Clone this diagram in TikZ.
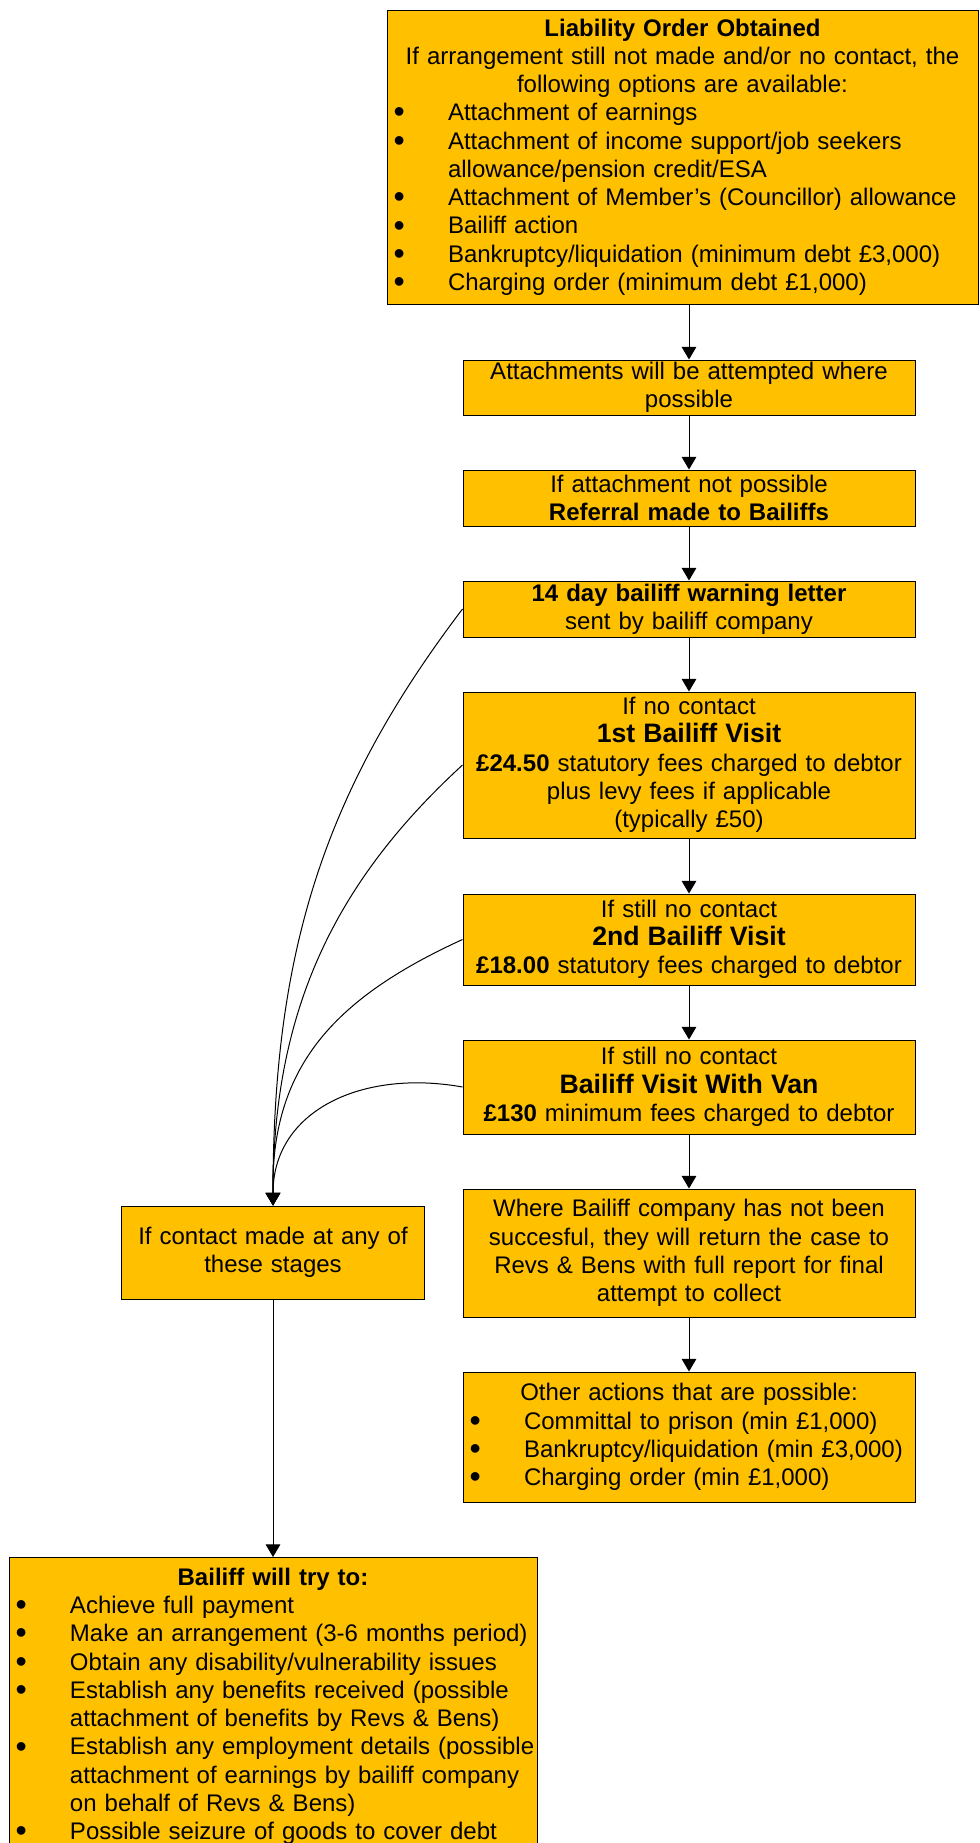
\documentclass[tikz,border=0pt]{standalone}
\usepackage{fontspec}
\setmainfont{Liberation Sans}
\usetikzlibrary{arrows.meta}

\definecolor{stagefill}{HTML}{FFC000}
\newcommand\stagefont{\fontsize{18}{21.2}\selectfont}
\newcommand\visitfont{\fontsize{20}{21.2}\selectfont\bfseries}
\newcommand\bulletmark{\raisebox{-1.6pt}{\fontsize{24}{24}\selectfont\textbullet}}
\newcommand\itm[1]{\par\noindent\hangindent=45.75pt\hangafter=1\makebox[45.75pt][l]{\hspace{5pt}\bulletmark}#1}

\tikzset{
  stage/.style={draw=black, line width=0.75pt, fill=stagefill, inner sep=0pt, align=center, font=\stagefont},
  liststage/.style={draw=black, line width=0.75pt, fill=stagefill, inner sep=0pt, font=\stagefont},
  flow/.style={line width=0.75pt, -{Triangle[length=9.5pt,width=11pt]}},
}

\begin{document}
\begin{tikzpicture}[x=0.75pt, y=-0.75pt]
\useasboundingbox (0,0) rectangle (979,1843);

% Liability order
\node[liststage, text width=443.25pt, minimum height=220.5pt] (liability) at (682.5,157) {\centering\textbf{Liability Order Obtained}\par
If arrangement still not made and/or no contact, the\break following options are available:\par
\raggedright
\itm{Attachment of earnings}
\itm{Attachment of income support/job seekers\break allowance/pension credit/ESA}
\itm{Attachment of Member’s (Councillor) allowance}
\itm{Bailiff action}
\itm{Bankruptcy/liquidation (minimum debt £3,000)}
\itm{Charging order (minimum debt £1,000)}\par};

% Attachments and referral
\node[stage, text width=339pt, minimum height=41.25pt] (attach) at (689,387.5) {Attachments will be attempted where\\possible};
\node[stage, text width=339pt, minimum height=42pt] (referral) at (689,498) {If attachment not possible\\\textbf{Referral made to Bailiffs}};

% Bailiff stages
\node[stage, text width=339pt, minimum height=42pt] (warning) at (689,609) {\textbf{14 day bailiff warning letter}\\sent by bailiff company};
\node[stage, text width=339pt, minimum height=109.5pt] (visitone) at (689,765) {If no contact\\{\visitfont 1st Bailiff Visit}\\\textbf{£24.50} statutory fees charged to debtor\\plus levy fees if applicable\\(typically £50)};
\node[stage, text width=339pt, minimum height=68.25pt] (visittwo) at (689,939.5) {If still no contact\\{\visitfont 2nd Bailiff Visit}\\\textbf{£18.00} statutory fees charged to debtor};
\node[stage, text width=339pt, minimum height=70.5pt] (vanvisit) at (689,1087) {If still no contact\\{\visitfont Bailiff Visit With Van}\\\textbf{£130} minimum fees charged to debtor};

% Case returned
\node[stage, text width=339pt, minimum height=96pt] (returncase) at (689,1253) {Where Bailiff company has not been\\succesful, they will return the case to\\Revs \& Bens with full report for final\\attempt to collect};
\node[liststage, text width=339pt, minimum height=97.5pt] (otheractions) at (689,1437) {\centering Other actions that are possible:\par
\raggedright
\itm{Committal to prison (min £1,000)}
\itm{Bankruptcy/liquidation (min £3,000)}
\itm{Charging order (min £1,000)}\par};

% Contact made
\node[stage, text width=227.25pt, minimum height=69.75pt] (contact) at (273,1252.5) {If contact made at any of\\these stages};
\node[liststage, text width=396pt, minimum height=223.2pt, anchor=north] (bailifftry) at (273,1557) {\centering\textbf{Bailiff will try to:}\par
\raggedright
\itm{Achieve full payment}
\itm{Make an arrangement (3-6 months period)}
\itm{Obtain any disability/vulnerability issues}
\itm{Establish any benefits received (possible\break attachment of benefits by Revs \& Bens)}
\itm{Establish any employment details (possible\break attachment of earnings by bailiff company\break on behalf of Revs \& Bens)}
\itm{Possible seizure of goods to cover debt}\par};

% Main flow
\draw[flow] (attach.north |- liability.south) -- (attach.north);
\draw[flow] (attach.south) -- (referral.north);
\draw[flow] (referral.south) -- (warning.north);
\draw[flow] (warning.south) -- (visitone.north);
\draw[flow] (visitone.south) -- (visittwo.north);
\draw[flow] (visittwo.south) -- (vanvisit.north);
\draw[flow] (vanvisit.south) -- (returncase.north);
\draw[flow] (returncase.south) -- (otheractions.north);

% Contact at any stage
\draw[flow] (warning.west) .. controls (325,790) and (273,950) .. (contact.north);
\draw[flow] (visitone.west) .. controls (335,882) and (273,1010) .. (contact.north);
\draw[flow] (visittwo.west) .. controls (330,1000) and (271,1070) .. (contact.north);
\draw[flow] (vanvisit.west) .. controls (363,1069) and (273,1110) .. (contact.north);
\draw[flow] (contact.south) -- (bailifftry.north);

\end{tikzpicture}
\end{document}
